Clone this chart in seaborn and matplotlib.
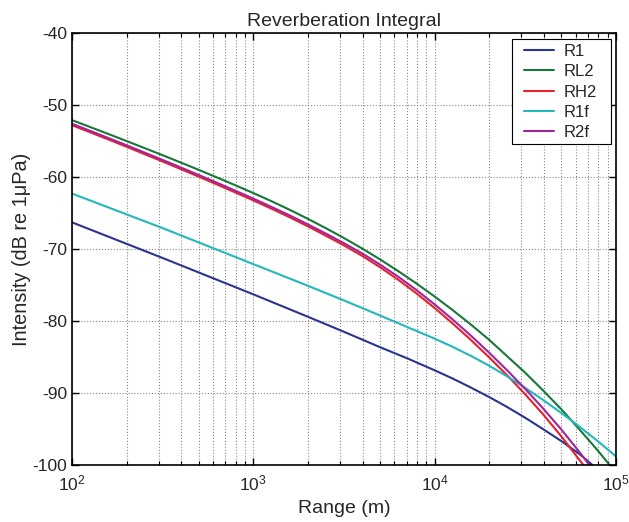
import numpy as np
import pandas as pd
import matplotlib
matplotlib.use("Agg")
import matplotlib.pyplot as plt
import seaborn as sns
from matplotlib.ticker import LogLocator
from matplotlib.patches import Rectangle

# ---- data (range in metres given as log10 values, intensity in dB re 1uPa) ----
series_names = ["R1", "RL2", "RH2", "R1f", "R2f"]

r1_logr = [2.0, 2.5, 3.0, 3.3, 3.5, 3.7, 3.85, 4.0, 4.1, 4.2, 4.3, 4.4, 4.5, 4.6, 4.7, 4.8, 4.87]
r1_db = [-66.3, -71.25, -76.3, -79.4, -81.5, -83.65, -85.2, -86.85, -88.0, -89.25, -90.55, -91.95,
         -93.45, -95.05, -96.7, -98.5, -100.0]

rl2_logr = [2.0, 2.1, 2.2, 2.3, 2.4, 2.5, 2.6, 2.7, 2.8, 2.9, 3.0, 3.1, 3.2, 3.3, 3.4, 3.5, 3.6, 3.7,
            3.8, 3.9, 4.0, 4.1, 4.2, 4.3, 4.4, 4.5, 4.6, 4.7, 4.8, 4.9, 4.965]
rl2_db = [-52.1, -53.06, -54.02, -55.0, -55.98, -56.98, -57.99, -59.02, -60.07, -61.14, -62.23,
          -63.36, -64.55, -65.8, -67.11, -68.48, -69.93, -71.46, -73.09, -74.8, -76.6, -78.5,
          -80.5, -82.6, -84.9, -87.2, -89.7, -92.3, -95.1, -98.0, -100.0]

rh2_logr = [2.0, 2.1, 2.2, 2.3, 2.4, 2.5, 2.6, 2.7, 2.8, 2.9, 3.0, 3.1, 3.2, 3.3, 3.4, 3.5, 3.6, 3.7,
            3.8, 3.9, 4.0, 4.1, 4.2, 4.3, 4.4, 4.5, 4.6, 4.7, 4.8, 4.82]
rh2_db = [-52.8, -53.79, -54.78, -55.79, -56.82, -57.85, -58.9, -59.96, -61.04, -62.14, -63.25,
          -64.4, -65.59, -66.84, -68.15, -69.5, -70.95, -72.55, -74.29, -76.17, -78.2, -80.36,
          -82.64, -85.04, -87.56, -90.2, -93.02, -96.07, -99.35, -100.0]

r1f_logr = [2.0, 2.5, 3.0, 3.3, 3.5, 3.7, 3.85, 4.0, 4.1, 4.2, 4.3, 4.4, 4.5, 4.6, 4.7, 4.8, 4.9, 5.0]
r1f_db = [-62.3, -67.1, -72.1, -75.1, -77.15, -79.25, -80.85, -82.45, -83.6, -84.85, -86.2, -87.7,
          -89.3, -91.0, -92.8, -94.7, -96.7, -98.8]

r2f_logr = [2.0, 2.1, 2.2, 2.3, 2.4, 2.5, 2.6, 2.7, 2.8, 2.9, 3.0, 3.1, 3.2, 3.3, 3.4, 3.5, 3.6, 3.7,
            3.8, 3.9, 4.0, 4.1, 4.2, 4.3, 4.4, 4.5, 4.6, 4.7, 4.8, 4.853]
r2f_db = [-52.6, -53.59, -54.58, -55.58, -56.61, -57.63, -58.68, -59.73, -60.8, -61.9, -63.0,
          -64.15, -65.33, -66.57, -67.86, -69.2, -70.61, -72.18, -73.87, -75.71, -77.7, -79.81,
          -82.04, -84.39, -86.86, -89.45, -92.2, -95.12, -98.25, -100.0]

colors = ["#2b3590", "#17783a", "#e8202a", "#22b8bc", "#a0259e"]
y_ticks = [-40, -50, -60, -70, -80, -90, -100]

# ---- build long table ----
frames = []
for name, lr, db in zip(series_names,
                        [r1_logr, rl2_logr, rh2_logr, r1f_logr, r2f_logr],
                        [r1_db, rl2_db, rh2_db, r1f_db, r2f_db]):
    frames.append(pd.DataFrame({"range": np.power(10.0, lr), "db": db, "series": name}))
df = pd.concat(frames, ignore_index=True)

sns.set_style("ticks")
plt.rcParams["font.family"] = ["Liberation Sans", "DejaVu Sans"]
plt.rcParams["mathtext.fontset"] = "custom"
plt.rcParams["mathtext.rm"] = "Liberation Sans"
plt.rcParams["mathtext.it"] = "Liberation Sans:italic"
plt.rcParams["axes.unicode_minus"] = False

W, H = 629, 522
fig = plt.figure(figsize=(W / 100, H / 100), dpi=100)
ax = fig.add_axes([72 / W, 1 - 465 / H, (616 - 72) / W, (465 - 33) / H])

sns.lineplot(data=df, x="range", y="db", hue="series", hue_order=series_names,
             palette=colors, estimator=None, sort=False, linewidth=1.5, ax=ax)

ax.set_xscale("log")
ax.set_xlim(1e2, 1e5)
ax.set_ylim(-100, -40)
ax.set_yticks(y_ticks)
ax.xaxis.set_major_locator(LogLocator(base=10, numticks=10))
ax.xaxis.set_minor_locator(LogLocator(base=10, subs=np.arange(2, 10), numticks=20))

ax.grid(True, which="major", axis="both", linestyle=":", color="#8a8a8a", linewidth=0.8)
ax.grid(True, which="minor", axis="x", linestyle=":", color="#8a8a8a", linewidth=0.8)

ax.tick_params(axis="both", which="both", direction="in", top=True, right=True,
               labelsize=12.5, color="black")
ax.tick_params(axis="both", which="major", length=5, width=1)
ax.tick_params(axis="x", which="major", pad=6)
ax.tick_params(axis="x", which="minor", length=3, width=0.8)
for s in ax.spines.values():
    s.set_visible(True)
    s.set_color("black")
    s.set_linewidth(1.2)

ax.set_title("Reverberation Integral", fontsize=14, pad=5)
ax.set_xlabel("Range (m)", fontsize=14, labelpad=5)
ax.set_ylabel("Intensity (dB re 1μPa)", fontsize=14.3, labelpad=1)

# legend content without frame, then a MATLAB-like box with wider side padding
ax_w, ax_h = 616 - 72, 465 - 33
leg = ax.legend(loc="upper right", bbox_to_anchor=(1 - 19 / ax_w, 1 - 11 / ax_h),
                frameon=False, fontsize=12, handlelength=1.75, handletextpad=0.6,
                borderpad=0.0, labelspacing=0.32, borderaxespad=0.0, title=None)
leg.set_zorder(6)
fig.canvas.draw()
bb = leg.get_window_extent()
inv = ax.transAxes.inverted()
(x0, y0) = inv.transform((bb.x0 - 12, bb.y0 - 4))
(x1, y1) = inv.transform((bb.x1 + 14, bb.y1 + 5))
frame = Rectangle((x0, y0), x1 - x0, y1 - y0, transform=ax.transAxes, facecolor="white",
                  edgecolor="black", linewidth=0.8, zorder=5.5, clip_on=False)
ax.add_patch(frame)

fig.savefig("out.png", dpi=100)
